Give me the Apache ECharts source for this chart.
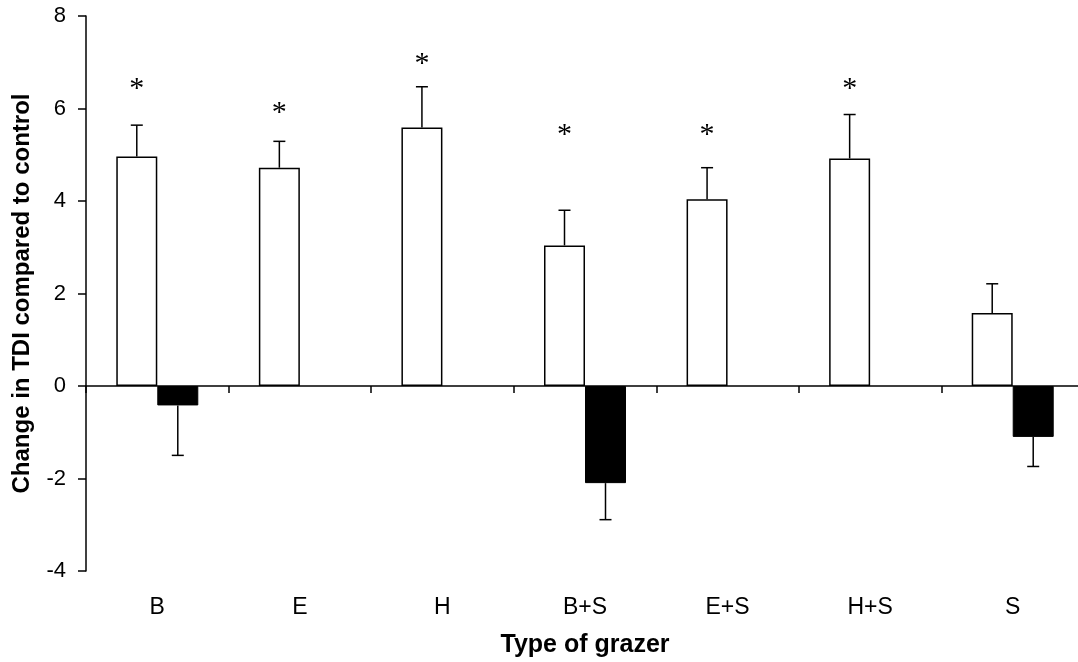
<!DOCTYPE html>
<html>
<head>
<meta charset="utf-8">
<script src="https://cdn.jsdelivr.net/npm/echarts@6/dist/echarts.min.js"></script>
<style>
  html, body { margin: 0; padding: 0; background: #fff; }
  #chart { width: 1078px; height: 662px; }
</style>
</head>
<body>
<div id="chart"></div>
<script>
// Grazer treatments
const categories = ['B', 'E', 'H', 'B+S', 'E+S', 'H+S', 'S'];
// Open bars: mean change in TDI, with standard error
const openMeans = [4.96, 4.72, 5.59, 3.04, 4.04, 4.92, 1.58];
const openErrors = [0.68, 0.57, 0.88, 0.76, 0.68, 0.95, 0.63];
// Filled bars: mean change in TDI, with standard error (absent treatments are null)
const filledMeans = [-0.42, null, null, -2.10, null, null, -1.10];
const filledErrors = [1.08, null, null, 0.79, null, null, 0.64];
// Height of the significance asterisks above the open bars
const starLevels = [6.57, 6.05, 7.12, 5.58, 5.58, 6.57, null];
// Value axis ticks
const yTicks = { min: -4, max: 8, interval: 2 };

const BAR_W = 41;
const CAP_HALF = 6;
const FONT = '"Liberation Sans", Arial, sans-serif';

const chart = echarts.init(document.getElementById('chart'), null, { renderer: 'canvas' });

function errorBarData(means, errs) {
  const out = [];
  means.forEach((m, i) => {
    if (m !== null && errs[i] !== null) out.push([i, m, errs[i]]);
  });
  return out;
}

function makeErrorRenderer(side) {
  // side: -1 -> left bar of the pair, +1 -> right bar of the pair
  return function (params, api) {
    const i = api.value(0);
    const m = api.value(1);
    const e = api.value(2);
    const tipVal = m >= 0 ? m + e : m - e;
    const base = api.coord([i, m]);
    const tip = api.coord([i, tipVal]);
    const x = base[0] + side * BAR_W / 2;
    const style = { stroke: '#000', lineWidth: 1.5 };
    return {
      type: 'group',
      children: [
        { type: 'line', shape: { x1: x, y1: base[1], x2: x, y2: tip[1] }, style },
        { type: 'line', shape: { x1: x - CAP_HALF, y1: tip[1], x2: x + CAP_HALF, y2: tip[1] }, style }
      ]
    };
  };
}

const starData = [];
starLevels.forEach((v, i) => { if (v !== null) starData.push([i, v]); });

const option = {
  backgroundColor: '#fff',
  animation: false,
  grid: { left: 86, right: -6, top: 16, bottom: 91, containLabel: false, outerBoundsMode: 'none' },
  xAxis: [
    {
      type: 'category',
      data: categories,
      position: 'bottom',
      boundaryGap: true,
      axisLine: { show: true, onZero: true, lineStyle: { color: '#000', width: 1.5 } },
      axisTick: { show: true, length: 7, inside: false, lineStyle: { color: '#000', width: 1.5 } },
      axisLabel: { show: false },
      splitLine: { show: false }
    },
    {
      type: 'category',
      data: categories,
      position: 'bottom',
      axisLine: { show: false, onZero: false },
      axisTick: { show: false },
      axisLabel: { show: true, color: '#000', fontFamily: FONT, fontSize: 23, margin: 25 },
      splitLine: { show: false },
      name: 'Type of grazer',
      nameLocation: 'middle',
      nameGap: 62,
      nameTextStyle: { color: '#000', fontFamily: FONT, fontSize: 25, fontWeight: 'bold' }
    }
  ],
  yAxis: {
    type: 'value',
    min: yTicks.min,
    max: yTicks.max,
    interval: yTicks.interval,
    axisLine: { show: true, onZero: false, lineStyle: { color: '#000', width: 1.5 } },
    axisTick: { show: true, length: 8, lineStyle: { color: '#000', width: 1.5 } },
    axisLabel: { color: '#000', fontFamily: FONT, fontSize: 22, margin: 20 },
    splitLine: { show: false },
    name: 'Change in TDI compared to control',
    nameLocation: 'middle',
    nameGap: 52,
    nameTextStyle: { color: '#000', fontFamily: FONT, fontSize: 24, fontWeight: 'bold' }
  },
  series: [
    {
      name: 'open',
      type: 'bar',
      xAxisIndex: 0,
      data: openMeans,
      barWidth: BAR_W,
      barGap: '0%',
      itemStyle: { color: '#fff', borderColor: '#000', borderWidth: 1.5 },
      z: 2
    },
    {
      name: 'filled',
      type: 'bar',
      xAxisIndex: 0,
      data: filledMeans,
      barWidth: BAR_W,
      barGap: '0%',
      itemStyle: { color: '#000', borderColor: '#000', borderWidth: 1 },
      z: 2
    },
    {
      name: 'open error',
      type: 'custom',
      xAxisIndex: 0,
      data: errorBarData(openMeans, openErrors),
      renderItem: makeErrorRenderer(-1),
      z: 3
    },
    {
      name: 'filled error',
      type: 'custom',
      xAxisIndex: 0,
      data: errorBarData(filledMeans, filledErrors),
      renderItem: makeErrorRenderer(1),
      z: 3
    },
    {
      name: 'significance',
      type: 'custom',
      xAxisIndex: 0,
      data: starData,
      renderItem: function (params, api) {
        const p = api.coord([api.value(0), api.value(1)]);
        return {
          type: 'text',
          x: p[0] - BAR_W / 2,
          y: p[1] + 7,
          style: {
            text: '*',
            fill: '#000',
            font: '30px "Liberation Serif", "Times New Roman", serif',
            align: 'center',
            verticalAlign: 'middle'
          }
        };
      },
      z: 3
    }
  ]
};

chart.setOption(option);
</script>
</body>
</html>
